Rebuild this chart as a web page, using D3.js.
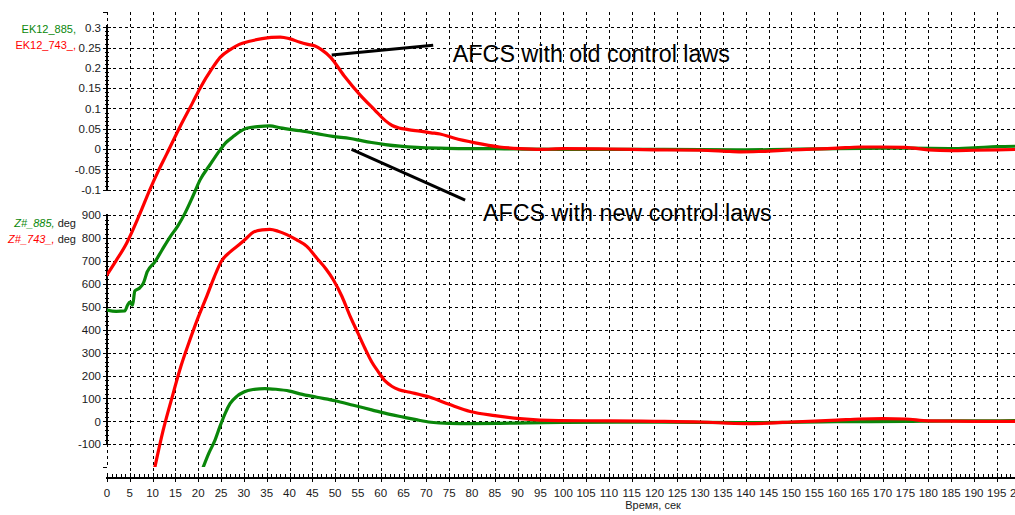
<!DOCTYPE html>
<html>
<head>
<meta charset="utf-8">
<script src="https://cdn.jsdelivr.net/npm/d3@7"></script>
<style>
  html, body { margin: 0; padding: 0; background: #fff; }
  svg { display: block; font-family: "Liberation Sans", Arial, sans-serif; }
</style>
</head>
<body>
<svg id="chart" width="1015" height="515"></svg>
<script>
// ---------------- DATA ----------------
// time ticks (seconds)
const xTicks = d3.range(0, 201, 5);
const xMinorTicks = d3.range(0, 201, 1);
// upper panel axis (EK12)
const ekTicks = [0.3, 0.25, 0.2, 0.15, 0.1, 0.05, 0, -0.05, -0.1];
const ekTickLabels = ["0.3", "0.25", "0.2", "0.15", "0.1", "0.05", "0", "-0.05", "-0.1"];
// lower panel axis (Z#)
const zTicks = [900, 800, 700, 600, 500, 400, 300, 200, 100, 0, -100];

// EK12_743_ (red, upper scale) [time, value]
const ek743 = [[0,-0.31],[2,-0.275],[4.3,-0.232],[7,-0.165],[9.4,-0.1],[11,-0.06],[13.1,-0.012],
  [16,0.055],[18.8,0.115],[20.4,0.15],[23,0.198],[24.8,0.226],[27,0.245],[29,0.258],[31,0.265],
  [34,0.272],[36,0.275],[38,0.276],[40,0.272],[42.3,0.263],[44,0.258],[45.6,0.254],[47,0.245],
  [49,0.226],[52,0.18],[55.5,0.133],[58.7,0.096],[61,0.07],[62.5,0.058],[64,0.052],[66,0.048],
  [68.6,0.044],[71,0.04],[73,0.037],[76,0.027],[80.7,0.015],[86,0.005],[90.5,0.001],[95,-0.001],
  [100,0.001],[110,0],[120,-0.002],[130,-0.003],[135,-0.005],[139,-0.007],[143,-0.006],[150,-0.002],
  [160,0.002],[165,0.005],[170,0.005],[175,0.004],[180,-0.002],[185,-0.004],[190,-0.003],[195,-0.002],[200,-0.001]];

// EK12_885 (green, upper scale)
const ek885 = [[0,-0.397],[2,-0.4],[3.9,-0.399],[4.5,-0.385],[5,-0.377],[5.6,-0.385],[6.1,-0.35],
  [7.2,-0.342],[8,-0.33],[8.8,-0.303],[10.5,-0.278],[12,-0.25],[13.8,-0.217],[15.5,-0.19],
  [17.1,-0.158],[18.8,-0.117],[20.4,-0.076],[22.5,-0.04],[24.8,-0.002],[26,0.015],[27.6,0.03],
  [29,0.042],[30.6,0.051],[33,0.055],[35.7,0.057],[38,0.052],[42.3,0.045],[46,0.038],[49.5,0.031],
  [53.3,0.026],[56,0.02],[58,0.016],[61,0.011],[64.2,0.007],[68,0.004],[73,0.002],[78,0.001],
  [85,0.001],[90,0],[100,-0.001],[120,-0.001],[140,-0.002],[160,0.001],[175,0.002],[185,0.001],
  [190,0.003],[195,0.006],[200,0.007]];

// Z#_743_ (red, lower scale, deg)
const z743 = [[10.5,-200],[12.3,-40],[14.2,100],[16.2,240],[18.2,357],[20,455],[21.9,548],[23.5,630],
  [25.1,700],[27,740],[29,772],[30.5,798],[32.1,826],[34,836],[35.7,838],[37.5,830],[39.4,815],
  [41.5,793],[43.8,764],[46,712],[48,665],[49.6,618],[51.5,545],[53.3,458],[55,385],[56.5,320],
  [58,260],[59.5,215],[61,175],[62.5,152],[64,138],[66.4,127],[70.8,105],[75,74],[79.6,43],[85,25],
  [90.5,12],[99,3],[110,2],[120,0],[130,-3],[140,-10],[145,-8],[150,-3],[160,5],[165,10],[170,12],
  [175,10],[180,2],[190,0],[200,0]];

// Z#_885 (green, lower scale, deg)
const z885 = [[21,-205],[22.3,-140],[23.7,-81],[24.8,-20],[25.9,35],[27,78],[28.5,110],[30,128],
  [32,139],[34.6,143],[37,140],[40,132],[42.3,120],[46,105],[50,90],[54,70],[58,50],[62,30],[65,18],
  [68,6],[71,-4],[75,-9],[80,-10],[86,-9],[92,-7],[100,-5],[120,-4],[140,-6],[160,-2],[175,0],
  [185,2],[195,2],[200,3]];

const seriesLabels = {
  ek885: "EK12_885,", ek743: "EK12_743_,",
  z885: "Z#_885,", z743: "Z#_743_,", unit: " deg"
};
const xTitle = "Время, сек";
const noteOld = "AFCS with old control laws";
const noteNew = "AFCS with new control laws";

// ---------------- LAYOUT ----------------
const W = 1015, H = 515;
const axisX = 107, xAxisY = 478;
const RED = "#ff0000", GREEN = "#0a870a";
const svg = d3.select("#chart");

const x = d3.scaleLinear().domain([0, 200]).range([axisX, 1019.5]);
const yEK = d3.scaleLinear().domain([-0.1, 0.3]).range([189.6, 27.3]);
const yZ = d3.scaleLinear().domain([-100, 900]).range([444.2, 215.2]);

const clipBottom = yZ(-200);
svg.append("clipPath").attr("id", "plotclip")
  .append("rect").attr("x", axisX).attr("y", 0).attr("width", W - axisX).attr("height", clipBottom);

// grid
const grid = svg.append("g").attr("stroke", "#000").attr("stroke-width", 1)
  .attr("stroke-dasharray", "3,3").attr("shape-rendering", "crispEdges");
grid.selectAll("line.v").data(xTicks.filter(d => d > 0)).join("line")
  .attr("x1", d => Math.round(x(d)) + 0.5).attr("x2", d => Math.round(x(d)) + 0.5)
  .attr("y1", 12).attr("y2", xAxisY);
grid.selectAll("line.hek").data(ekTicks).join("line")
  .attr("x1", axisX).attr("x2", W)
  .attr("y1", d => Math.round(yEK(d)) + 0.5).attr("y2", d => Math.round(yEK(d)) + 0.5);
grid.selectAll("line.hz").data(zTicks).join("line")
  .attr("x1", axisX).attr("x2", W)
  .attr("y1", d => Math.round(yZ(d)) + 0.5).attr("y2", d => Math.round(yZ(d)) + 0.5);
// dashed axis extensions
grid.append("line").attr("x1", axisX).attr("x2", axisX).attr("y1", 12).attr("y2", yEK(0.3));
grid.append("line").attr("x1", axisX).attr("x2", axisX).attr("y1", yZ(-100)).attr("y2", clipBottom);

// y axes
const axes = svg.append("g").attr("stroke", "#000").attr("shape-rendering", "crispEdges");
axes.append("line").attr("x1", axisX).attr("x2", axisX).attr("y1", yEK(0.305)).attr("y2", yEK(-0.1)).attr("stroke-width", 2);
axes.append("line").attr("x1", axisX).attr("x2", axisX).attr("y1", yZ(905)).attr("y2", yZ(-100)).attr("stroke-width", 2);
// minor ticks
const ekMinor = d3.range(-10, 31).map(i => i / 100);
axes.selectAll("line.ekm").data(ekMinor).join("line")
  .attr("x1", axisX - 2).attr("x2", axisX + 2)
  .attr("y1", d => Math.round(yEK(d)) + 0.5).attr("y2", d => Math.round(yEK(d)) + 0.5);
const zMinor = d3.range(-100, 901, 20);
axes.selectAll("line.zm").data(zMinor).join("line")
  .attr("x1", axisX - 2).attr("x2", axisX + 2)
  .attr("y1", d => Math.round(yZ(d)) + 0.5).attr("y2", d => Math.round(yZ(d)) + 0.5);
axes.selectAll("line.ekM").data(ekTicks).join("line")
  .attr("x1", axisX - 4).attr("x2", axisX + 4)
  .attr("y1", d => Math.round(yEK(d)) + 0.5).attr("y2", d => Math.round(yEK(d)) + 0.5);
axes.selectAll("line.zM").data(zTicks).join("line")
  .attr("x1", axisX - 4).attr("x2", axisX + 4)
  .attr("y1", d => Math.round(yZ(d)) + 0.5).attr("y2", d => Math.round(yZ(d)) + 0.5);
// stub ticks beyond axes
axes.append("line").attr("x1", axisX - 4).attr("x2", axisX).attr("y1", 12.5).attr("y2", 12.5);
axes.append("line").attr("x1", axisX - 4).attr("x2", axisX).attr("y1", Math.round(clipBottom) + 0.5).attr("y2", Math.round(clipBottom) + 0.5);

// x axis
axes.append("line").attr("x1", axisX - 1).attr("x2", W).attr("y1", xAxisY).attr("y2", xAxisY).attr("stroke-width", 2);
axes.selectAll("line.xm").data(xMinorTicks).join("line")
  .attr("x1", d => Math.round(x(d)) + 0.5).attr("x2", d => Math.round(x(d)) + 0.5)
  .attr("y1", xAxisY - 4).attr("y2", xAxisY);
axes.selectAll("line.xM").data(xTicks).join("line")
  .attr("x1", d => Math.round(x(d)) + 0.5).attr("x2", d => Math.round(x(d)) + 0.5)
  .attr("y1", xAxisY - 5).attr("y2", xAxisY + 4);

// tick labels
const tl = svg.append("g").attr("font-size", 11.5).attr("fill", "#1a1a1a");
tl.selectAll("text.ek").data(ekTicks).join("text")
  .attr("x", 101).attr("y", d => yEK(d) + 4.2).attr("text-anchor", "end")
  .text((d, i) => ekTickLabels[i]);
tl.selectAll("text.z").data(zTicks).join("text")
  .attr("x", 101).attr("y", d => yZ(d) + 4.2).attr("text-anchor", "end")
  .text(d => d);
tl.selectAll("text.x").data(xTicks).join("text")
  .attr("x", d => x(d)).attr("y", 496.5).attr("text-anchor", "middle")
  .text(d => d);
tl.append("text").attr("x", 653).attr("y", 509).attr("text-anchor", "middle")
  .attr("font-size", 11).text(xTitle);

// series labels
const sl = svg.append("g").attr("font-size", 11).attr("text-anchor", "end");
sl.append("text").attr("x", 76).attr("y", 33).attr("fill", GREEN).text(seriesLabels.ek885);
sl.append("text").attr("x", 76).attr("y", 48.5).attr("fill", RED).text(seriesLabels.ek743);
const zl1 = sl.append("text").attr("x", 76).attr("y", 226.5);
zl1.append("tspan").attr("fill", GREEN).attr("font-style", "italic").text(seriesLabels.z885);
zl1.append("tspan").attr("fill", "#1a1a1a").text(seriesLabels.unit);
const zl2 = sl.append("text").attr("x", 76).attr("y", 243);
zl2.append("tspan").attr("fill", RED).attr("font-style", "italic").text(seriesLabels.z743);
zl2.append("tspan").attr("fill", "#1a1a1a").text(seriesLabels.unit);

// lines
const plot = svg.append("g").attr("clip-path", "url(#plotclip)");
const lineEK = d3.line().x(d => x(d[0])).y(d => yEK(d[1])).curve(d3.curveMonotoneX);
const lineZ = d3.line().x(d => x(d[0])).y(d => yZ(d[1])).curve(d3.curveMonotoneX);
const series = [
  { data: z885, line: lineZ, color: GREEN },
  { data: ek885, line: lineEK, color: GREEN },
  { data: z743, line: lineZ, color: RED },
  { data: ek743, line: lineEK, color: RED }
];
plot.selectAll("path.s").data(series).join("path")
  .attr("d", d => d.line(d.data)).attr("fill", "none")
  .attr("stroke", d => d.color).attr("stroke-width", 3.2)
  .attr("stroke-linejoin", "round").attr("stroke-linecap", "round");

// annotations
const ann = svg.append("g");
ann.append("line").attr("x1", x(49.25)).attr("y1", yEK(0.2315)).attr("x2", x(71.5)).attr("y2", yEK(0.256))
  .attr("stroke", "#000").attr("stroke-width", 3);
ann.append("line").attr("x1", x(53.6)).attr("y1", yEK(-0.0007)).attr("x2", x(78.5)).attr("y2", yEK(-0.126))
  .attr("stroke", "#000").attr("stroke-width", 3);
ann.append("text").attr("x", x(75.8)).attr("y", yEK(0.214)).attr("font-size", 23.3).attr("fill", "#000").text(noteOld);
ann.append("text").attr("x", x(82.4)).attr("y", yEK(-0.1786)).attr("font-size", 23.3).attr("fill", "#000").text(noteNew);
</script>
</body>
</html>
